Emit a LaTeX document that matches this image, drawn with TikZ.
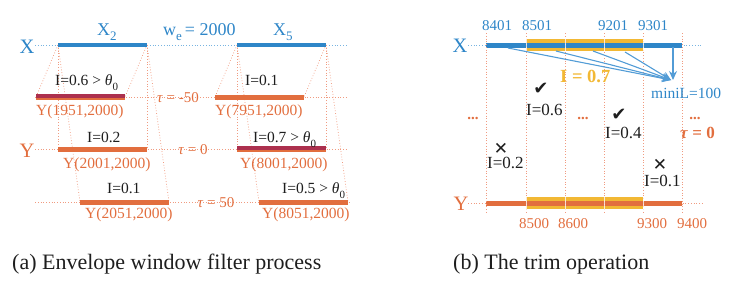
\documentclass[tikz,border=0pt]{standalone}
\usepackage{fontspec}
\setmainfont{Liberation Serif}
\newfontfamily\symfont{DejaVu Sans}
\usetikzlibrary{arrows.meta}
\definecolor{xblue}{RGB}{46,134,200}
\definecolor{xblueL}{RGB}{120,180,225}
\definecolor{yorange}{RGB}{226,110,62}
\definecolor{crimsonC}{RGB}{172,48,78}
\definecolor{salmonC}{RGB}{240,155,128}
\definecolor{yellowC}{RGB}{242,184,52}
\definecolor{arrowblue}{RGB}{82,156,214}
\definecolor{textdark}{RGB}{30,30,30}
\newcommand\thz{\textit{θ}\raisebox{-5pt}{\fontsize{11}{11}\selectfont 0}}
\tikzset{
  fs/.style={font=\fontsize{#1}{#1}\selectfont},
  xbar/.style={xblue, line width=4pt},
  xbarR/.style={xblue, line width=5pt},
  ybar/.style={yorange, line width=5pt},
  rbar/.style={crimsonC, line width=3.5pt},
  guide/.style={salmonC, dotted, line width=0.75pt},
  xguide/.style={xblueL, dotted, line width=0.8pt},
  lbl/.style={anchor=base west, inner sep=0pt, text=textdark, fs=15.5},
  rlbl/.style={anchor=base west, inner sep=0pt, text=textdark, fs=17},
  ylbl/.style={anchor=base west, inner sep=0pt, text=yorange, fs=15.5},
  taulbl/.style={anchor=base, inner sep=0pt, text=yorange, fs=15},
  numX/.style={anchor=base west, inner sep=0pt, text=xblue, fs=15},
  numY/.style={anchor=base west, inner sep=0pt, text=yorange, fs=15},
  axlbl/.style={anchor=base, inner sep=0pt, fs=20.5},
  dotlbl/.style={anchor=base, inner sep=0pt, text=yorange, font=\bfseries\fontsize{15}{15}\selectfont},
  arr/.style={arrowblue, line width=1.1pt, -{Stealth[length=9pt,width=8pt]}},
  sep/.style={white, opacity=0.75, line width=0.8pt},
  symmark/.style={inner sep=0pt, text=textdark}
}
\begin{document}
\begin{tikzpicture}[x=1pt,y=-1pt]
\useasboundingbox (0,0) rectangle (751,290);
% ================= LEFT =================
\node[axlbl, text=xblue] (XL) at (27,53) {X};
\node[axlbl, text=yorange] (YL) at (27,157) {Y};
\coordinate (xrowS) at (35,45);  \coordinate (xrowE) at (348,45);
\coordinate (r1S) at (35,97);    \coordinate (r1E) at (348,97);
\coordinate (r2S) at (35,149);   \coordinate (r2E) at (348,149);
\coordinate (r3S) at (35,202);   \coordinate (r3E) at (350,202);
\draw[xguide] (xrowS) -- (xrowE);
\draw[guide] (r1S) -- (r1E);
\draw[guide] (r2S) -- (r2E);
\draw[guide] (r3S) -- (r3E);
% window ends
\coordinate (x2s) at (58,45);  \coordinate (x2e) at (147,45);
\coordinate (x5s) at (237,45); \coordinate (x5e) at (326,45);
\coordinate (a1s) at (36,97);  \coordinate (a1e) at (125,97);
\coordinate (b1s) at (215,97); \coordinate (b1e) at (304,97);
\coordinate (a2s) at (58,149); \coordinate (a2e) at (147,149);
\coordinate (b2s) at (237,149);\coordinate (b2e) at (326,149);
\coordinate (a3s) at (80,202); \coordinate (a3e) at (169,202);
\coordinate (b3s) at (259,202);\coordinate (b3e) at (348,202);
% shift guides
\draw[guide] (x2s) -- (a1s); \draw[guide] (x2s) -- (a2s); \draw[guide] (x2s) -- (a3s);
\draw[guide] (x2e) -- (a1e); \draw[guide] (x2e) -- (a2e); \draw[guide] (x2e) -- (a3e);
\draw[guide] (x5s) -- (b1s); \draw[guide] (x5s) -- (b2s); \draw[guide] (x5s) -- (b3s);
\draw[guide] (x5e) -- (b1e); \draw[guide] (x5e) -- (b2e); \draw[guide] (x5e) -- (b3e);
% bars
\draw[xbar] (x2s) -- (x2e);
\draw[xbar] (x5s) -- (x5e);
\draw[ybar] (a1s) -- (a1e); \draw[rbar] ([yshift=1pt]a1s) -- ([yshift=1pt]a1e);
\draw[ybar] (b1s) -- (b1e);
\draw[ybar] (a2s) -- (a2e);
\draw[ybar] (b2s) -- (b2e); \draw[rbar] ([yshift=1pt]b2s) -- ([yshift=1pt]b2e);
\draw[ybar] (a3s) -- (a3e);
\draw[ybar] (b3s) -- (b3e);
% top labels
\node[anchor=base west, inner sep=0pt, text=xblue, fs=18] (x2lbl) at (97,35) {X\raisebox{-5pt}{\fontsize{13}{13}\selectfont 2}};
\node[anchor=base west, inner sep=0pt, text=xblue, fs=18] (we) at (163,35) {w\raisebox{-5pt}{\fontsize{13}{13}\selectfont e}\,= 2000};
\node[anchor=base west, inner sep=0pt, text=xblue, fs=18] (x5lbl) at (273,35) {X\raisebox{-5pt}{\fontsize{13}{13}\selectfont 5}};
% I labels
\node[lbl] (i1) at (55,85) {I=0.6 > \thz};
\node[lbl] (i2) at (245,85) {I=0.1};
\node[lbl] (i3) at (87,142) {I=0.2};
\node[lbl] (i4) at (253,142) {I=0.7 > \thz};
\node[lbl] (i5) at (107,193) {I=0.1};
\node[lbl] (i6) at (282,193) {I=0.5 > \thz};
% Y labels
\node[ylbl] (y1) at (36,115) {Y(1951,2000)};
\node[ylbl] (y2) at (215,115) {Y(7951,2000)};
\node[ylbl] (y3) at (63,168) {Y(2001,2000)};
\node[ylbl] (y4) at (240,168) {Y(8001,2000)};
\node[ylbl] (y5) at (85,218) {Y(2051,2000)};
\node[ylbl] (y6) at (262,218) {Y(8051,2000)};
% tau labels
\node[taulbl] (t1) at (178,102) {\textit{τ} = -50};
\node[taulbl] (t2) at (193,154) {\textit{τ} = 0};
\node[taulbl] (t3) at (216,207) {\textit{τ} = 50};
% ================= RIGHT =================
\node[axlbl, text=xblue] (XR) at (460,52) {X};
\node[axlbl, text=yorange] (YR) at (461,210) {Y};
\coordinate (rxS) at (468,45); \coordinate (rxE) at (702,45);
\coordinate (ryS) at (468,203); \coordinate (ryE) at (702,203);
\draw[xguide] (rxS) -- (rxE);
\draw[guide] (ryS) -- (ryE);
% yellow highlights
\fill[yellowC] (526,39) rectangle (643,51);
\fill[yellowC] (526,197) rectangle (643,209);
% bars
\coordinate (bx1) at (486,45); \coordinate (bx2) at (682,45);
\coordinate (by1) at (486,203); \coordinate (by2) at (682,203);
\draw[xbarR] (bx1) -- (bx2);
\draw[ybar] (by1) -- (by2);
% vertical guides
\foreach \n/\x in {1/486,2/526,3/565,4/604,5/643,6/682}{
  \coordinate (p\n t) at (\x,33);
  \coordinate (p\n b) at (\x,212);
}
\foreach \n in {1,...,6}{ \draw[guide] (p\n t) -- (p\n b); }
\foreach \x in {526,565,604,643}{
  \draw[sep] (\x,38) -- (\x,52);
  \draw[sep] (\x,196) -- (\x,210);
}
% arrows
\coordinate (o1) at (508,48); \coordinate (o2) at (556,51);
\coordinate (o3) at (593,51); \coordinate (o4) at (625,52);
\coordinate (o5) at (673,47);
\coordinate (tip) at (671,80); \coordinate (tipv) at (673,80);
\draw[arr] (o1) -- (tip);
\draw[arr] (o2) -- (tip);
\draw[arr] (o3) -- (tip);
\draw[arr] (o4) -- (tip);
\draw[arr] (o5) -- (tipv);
% numbers
\node[numX] (n1) at (482,30) {8401};
\node[numX] (n2) at (522,30) {8501};
\node[numX] (n3) at (598,30) {9201};
\node[numX] (n4) at (638,30) {9301};
\node[numY] (m1) at (519,228) {8500};
\node[numY] (m2) at (558,228) {8600};
\node[numY] (m3) at (637,228) {9300};
\node[numY] (m4) at (677,228) {9400};
% texts
\node[anchor=base west, inner sep=0pt, text=xblue, fs=15.5] (mini) at (651,98) {miniL=100};
\node[anchor=base west, inner sep=0pt, text=yellowC, font=\bfseries\fontsize{18.5}{18.5}\selectfont] (iw) at (560,82) {I = 0.7};
\node[anchor=base west, inner sep=0pt, text=yorange, font=\bfseries\fontsize{17}{17}\selectfont] (tz) at (680,138) {\textit{τ} = 0};
\node[dotlbl] (d1) at (473,119) {...};
\node[dotlbl] (d2) at (583,119) {...};
\node[dotlbl] (d3) at (695,119) {...};
\node[rlbl] (j1) at (526,115) {I=0.6};
\node[rlbl] (j2) at (605,138) {I=0.4};
\node[rlbl] (j3) at (487,168) {I=0.2};
\node[rlbl] (j4) at (644,186) {I=0.1};
\node[symmark, font=\symfont\fontsize{18}{18}\selectfont] (c1) at (541,88.5) {✔};
\node[symmark, font=\symfont\fontsize{18}{18}\selectfont] (c2) at (619,115) {✔};
\node[symmark, font=\symfont\fontsize{17}{17}\selectfont] (k1) at (501,148.5) {✕};
\node[symmark, font=\symfont\fontsize{17}{17}\selectfont] (k2) at (660,164.5) {✕};
% captions
\node[anchor=base west, inner sep=0pt, text=textdark, fs=22] (capa) at (12,269) {(a) Envelope window filter process};
\node[anchor=base west, inner sep=0pt, text=textdark, fs=22] (capb) at (453,269) {(b) The trim operation};
\end{tikzpicture}
\end{document}
